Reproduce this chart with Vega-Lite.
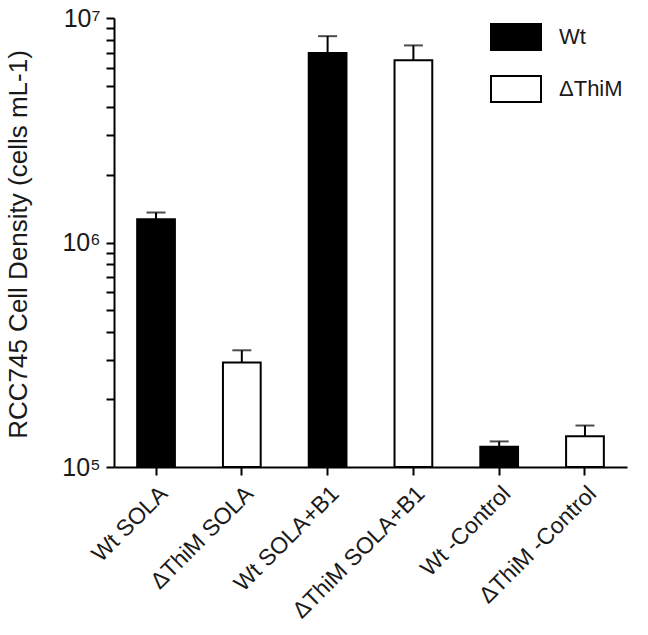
{
  "$schema": "https://vega.github.io/schema/vega-lite/v6.json",
  "width": 513,
  "height": 449,
  "autosize": {"type": "none"},
  "padding": {"left": 114, "top": 18, "right": 21, "bottom": 168},
  "background": "white",
  "config": {
    "font": "Liberation Sans",
    "view": {"stroke": null},
    "axis": {"domainColor": "black", "domainWidth": 2, "tickColor": "black", "tickWidth": 2, "grid": false, "labelColor": "#1a1a1a", "titleColor": "#1a1a1a"}
  },
  "data": {
    "values": [
      {"group": "Wt SOLA", "genotype": "Wt", "value": 1270000, "upper": 1360000},
      {"group": "ΔThiM SOLA", "genotype": "ΔThiM", "value": 292000, "upper": 331000},
      {"group": "Wt SOLA+B1", "genotype": "Wt", "value": 6980000, "upper": 8300000},
      {"group": "ΔThiM SOLA+B1", "genotype": "ΔThiM", "value": 6480000, "upper": 7550000},
      {"group": "Wt -Control", "genotype": "Wt", "value": 123000, "upper": 130000},
      {"group": "ΔThiM -Control", "genotype": "ΔThiM", "value": 137000, "upper": 153000}
    ]
  },
  "encoding": {
    "x": {
      "field": "group", "type": "nominal", "sort": null,
      "scale": {"paddingInner": 0.56, "paddingOuter": 0.27},
      "axis": {"title": null, "labelAngle": -45, "labelFontSize": 23, "labelPadding": 7, "tickSize": 8}
    }
  },
  "layer": [
    {
      "mark": {"type": "bar", "stroke": "black", "strokeWidth": 2},
      "encoding": {
        "y": {
          "field": "value", "type": "quantitative",
          "scale": {"type": "log", "domain": [100000, 10000000], "nice": false},
          "axis": {
            "title": "RCC745 Cell Density (cells mL-1)", "titleFontSize": 26, "titleFontWeight": "normal",
            "titleX": -96, "titleY": 226, "titleBaseline": "middle", "titleAlign": "center", "titleAngle": -90,
            "labelFontSize": 25, "tickSize": 8, "labelPadding": 6,
            "values": [100000, 200000, 300000, 400000, 500000, 600000, 700000, 800000, 900000, 1000000, 2000000, 3000000, 4000000, 5000000, 6000000, 7000000, 8000000, 9000000, 10000000],
            "labelExpr": "datum.value == 100000 ? '10⁵' : datum.value == 1000000 ? '10⁶' : datum.value == 10000000 ? '10⁷' : ''"
          }
        },
        "y2": {"datum": 100000},
        "fill": {
          "field": "genotype", "type": "nominal",
          "scale": {"domain": ["Wt", "ΔThiM"], "range": ["black", "white"]},
          "legend": {
            "orient": "none", "legendX": 376, "legendY": -7, "title": null,
            "symbolType": "M-1,-0.52H1V0.52H-1Z", "symbolSize": 2500,
            "symbolStrokeColor": "black", "symbolStrokeWidth": 2,
            "labelFontSize": 22, "labelOffset": 17, "rowPadding": 9, "labelColor": "#1a1a1a"
          }
        }
      }
    },
    {
      "mark": {"type": "rule", "strokeWidth": 2, "color": "black"},
      "encoding": {
        "y": {"field": "value", "type": "quantitative"},
        "y2": {"field": "upper"}
      }
    },
    {
      "mark": {"type": "tick", "size": 19, "thickness": 2, "color": "black"},
      "encoding": {
        "y": {"field": "upper", "type": "quantitative"}
      }
    }
  ]
}
